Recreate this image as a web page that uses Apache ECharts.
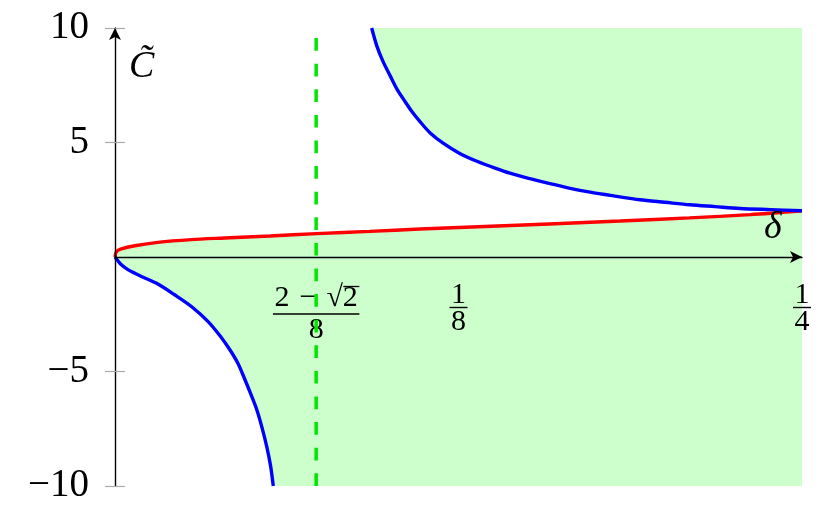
<!DOCTYPE html>
<html>
<head>
<meta charset="utf-8">
<script src="https://cdn.jsdelivr.net/npm/echarts@6/dist/echarts.min.js"></script>
<style>
  html, body { margin: 0; padding: 0; background: #fff; }
  #chart { width: 830px; height: 517px; }
</style>
</head>
<body>
<div id="chart"></div>
<script>
// values: [delta, C]
const redCurve = [
  [0, 0], [0.0005, 0.23], [0.0023, 0.35], [0.0072, 0.49], [0.0156, 0.64],
  [0.0278, 0.76], [0.0399, 0.83], [0.0564, 0.92], [0.0734, 1.02],
  [0.0928, 1.12], [0.111, 1.22], [0.1346, 1.33], [0.158, 1.44],
  [0.1838, 1.57], [0.209, 1.71], [0.2311, 1.85], [0.25, 2.02]
];
const blueLower = [
  [0, 0], [0.0023, -0.34], [0.0047, -0.55], [0.0072, -0.71], [0.0096, -0.85],
  [0.0156, -1.18], [0.0217, -1.65], [0.0278, -2.16], [0.0338, -2.81],
  [0.0382, -3.44], [0.0418, -4.05], [0.0448, -4.66], [0.0473, -5.36],
  [0.0495, -6.01], [0.0516, -6.67], [0.0535, -7.45], [0.0552, -8.27],
  [0.0566, -9.11], [0.0576, -10]
];
const blueUpper = [
  [0.0934, 10], [0.0953, 9.21], [0.0976, 8.52], [0.1001, 7.92], [0.1026, 7.33],
  [0.1052, 6.85], [0.1081, 6.34], [0.111, 5.91], [0.1146, 5.43], [0.1194, 4.97],
  [0.1256, 4.51], [0.1317, 4.18], [0.1383, 3.88], [0.1437, 3.66], [0.151, 3.42],
  [0.1583, 3.2], [0.1656, 3.0], [0.1729, 2.83], [0.1819, 2.66], [0.191, 2.5],
  [0.2001, 2.39], [0.2092, 2.28], [0.2183, 2.2], [0.2274, 2.12], [0.2384, 2.07],
  [0.25, 2.02]
];
const dashedLine = [[0.0732, -10], [0.0732, 10]];

const xTickValues = [0.0732, 0.125, 0.25];
const xTickNum = ['2\u2004\u2212\u2004\u221A2', '1', '1'];
const xTickDen = ['8', '8', '4'];
const yTickValues = [-10, -5, 5, 10];

const SERIF = 'Liberation Serif';
const FILL = '#ccffcc';

// widths of the sqrt numerator and of its radicand, to size the bars
const ctx = document.createElement('canvas').getContext('2d');
ctx.font = '30px "' + SERIF + '"';
const numW = ctx.measureText(xTickNum[0]).width;
const radW = ctx.measureText('2').width;

const chart = echarts.init(document.getElementById('chart'));

chart.setOption({
  animation: false,
  grid: { left: 115, right: 28, top: 28, bottom: 31, outerBoundsMode: 'none' },
  xAxis: {
    type: 'value',
    min: 0,
    max: 0.25,
    z: 10,
    offset: 0,
    splitLine: { show: false },
    axisLine: {
      onZero: false,
      lineStyle: { color: '#000', width: 1.4 },
      symbol: ['none', 'arrow'],
      symbolSize: [9, 12]
    },
    axisTick: { show: false },
    axisLabel: {
      customValues: xTickValues,
      margin: 28,
      formatter: (v) => {
        let i = 0;
        xTickValues.forEach((t, k) => {
          if (Math.abs(t - v) < Math.abs(xTickValues[i] - v)) i = k;
        });
        if (i === 0) {
          return '{ov| }\n{nw|' + xTickNum[i] + '}\n{bw| }\n{dw|' + xTickDen[i] + '}';
        }
        return '{n|' + xTickNum[i] + '}\n{bn| }\n{d|' + xTickDen[i] + '}';
      },
      rich: {
        ov: { align: 'right', width: radW + 1, height: 1.3, backgroundColor: '#000', fontSize: 1, lineHeight: 3 },
        nw: { fontFamily: SERIF, fontSize: 30, color: '#000', lineHeight: 21 },
        bw: { width: numW + 3, height: 1.4, backgroundColor: '#000', fontSize: 1, lineHeight: 10 },
        dw: { fontFamily: SERIF, fontSize: 30, color: '#000', lineHeight: 22 },
        n: { fontFamily: SERIF, fontSize: 30, color: '#000', lineHeight: 21 },
        bn: { width: 18, height: 1.4, backgroundColor: '#000', fontSize: 1, lineHeight: 3 },
        d: { fontFamily: SERIF, fontSize: 30, color: '#000', lineHeight: 27 }
      }
    },
    name: '\u03B4',
    nameLocation: 'end',
    nameGap: -38,
    nameTextStyle: {
      fontFamily: SERIF, fontStyle: 'italic', fontSize: 38, color: '#000',
      align: 'left', verticalAlign: 'bottom', padding: [0, 0, 10, 0]
    }
  },
  yAxis: [
    {
      type: 'value',
      min: -10,
      max: 10,
      z: 10,
      splitLine: { show: false },
      axisLine: {
        onZero: false,
        lineStyle: { color: '#000', width: 1.4 },
        symbol: ['none', 'arrow'],
        symbolSize: [9, 12]
      },
      axisTick: {
        customValues: yTickValues,
        length: 10,
        lineStyle: { color: '#aaa', width: 1.2 }
      },
      axisLabel: {
        customValues: yTickValues,
        margin: 26,
        fontFamily: SERIF,
        fontSize: 39,
        color: '#000',
        formatter: (v) => (v < 0 ? '\u2212' + Math.abs(v) : String(v))
      },
      name: 'C\u0303',
      nameLocation: 'end',
      nameGap: -20,
      nameTextStyle: {
        fontFamily: SERIF, fontStyle: 'italic', fontSize: 38, color: '#000',
        align: 'left', verticalAlign: 'top', padding: [0, 0, 0, 14]
      }
    },
    {
      type: 'value',
      min: -10,
      max: 10,
      position: 'left',
      z: 10,
      splitLine: { show: false },
      axisLine: { show: false },
      axisTick: {
        inside: true,
        customValues: yTickValues,
        length: 10,
        lineStyle: { color: '#aaa', width: 1.2 }
      },
      axisLabel: { show: false }
    }
  ],
  series: [
    {
      type: 'line',
      data: redCurve,
      smooth: 0.3,
      showSymbol: false,
      z: 2,
      lineStyle: { color: '#ff0000', width: 3.4 },
      areaStyle: { color: FILL, opacity: 1, origin: 'start' }
    },
    {
      type: 'line',
      data: blueLower,
      smooth: 0.3,
      showSymbol: false,
      z: 3,
      lineStyle: { color: '#0000ff', width: 3.4 },
      areaStyle: { color: '#ffffff', opacity: 1, origin: 'start' }
    },
    {
      type: 'line',
      data: blueUpper,
      smooth: 0.3,
      showSymbol: false,
      z: 3,
      lineStyle: { color: '#0000ff', width: 3.4 },
      areaStyle: { color: FILL, opacity: 1, origin: 'end' }
    },
    {
      type: 'line',
      data: dashedLine,
      showSymbol: false,
      z: 12,
      lineStyle: { color: '#00e600', width: 3.5, type: [12.7, 12.9] }
    }
  ]
});

// move the x axis up to C = 0 through the y scale
const yZero = chart.convertToPixel({ yAxisIndex: 0 }, 0);
const yBottom = chart.convertToPixel({ yAxisIndex: 0 }, -10);
chart.setOption({ xAxis: { offset: -(yBottom - yZero) } });
</script>
</body>
</html>
